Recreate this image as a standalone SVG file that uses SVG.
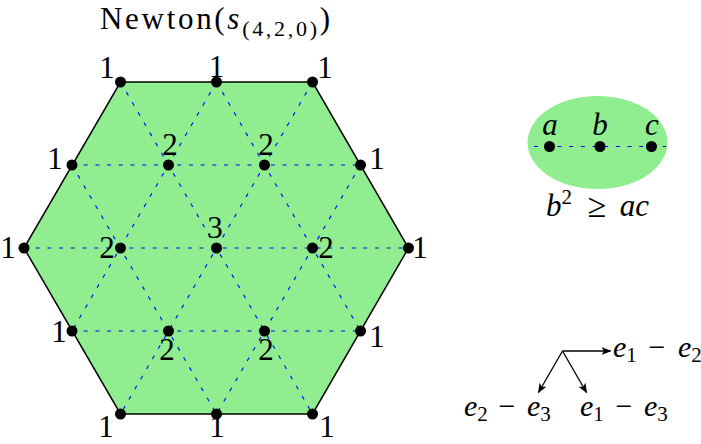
<svg xmlns="http://www.w3.org/2000/svg" width="701" height="444" viewBox="0 0 701 444">
<style>
text{font-family:"Liberation Serif","DejaVu Serif",serif;fill:#000}
.lb{font-size:31px;text-anchor:middle}
.it{font-style:italic}
.dash{stroke:#0000ff;stroke-width:1.1;stroke-dasharray:4 7.7;fill:none}
.dot{fill:#000}
.arr{stroke:#000;stroke-width:1.3;fill:none;marker-end:url(#ah)}
.ml{font-size:30px}
.sub{font-size:21px;font-style:normal}
</style>
<defs>
<marker id="ah" viewBox="0 0 10 10" refX="9" refY="5" markerWidth="10" markerHeight="10" markerUnits="userSpaceOnUse" orient="auto">
<path d="M0,1 L10,5 L0,9 L2.5,5 Z" fill="#000"/>
</marker>
</defs>
<text id="title" x="100" y="29" font-size="31" textLength="230" lengthAdjust="spacing">Newton(<tspan class="it">s</tspan><tspan font-size="22" dy="7">(4,2,0)</tspan><tspan dy="-7">)</tspan></text>
<g id="hexagon">
<polygon points="120.5,82 312.5,82 408.5,248 312.5,414 120.5,414 24,248" fill="#90ee90" stroke="#000" stroke-width="1.5"/>
</g>
<g id="connectors">
<line class="dash" x1="72" y1="165" x2="360.5" y2="165"/>
<line class="dash" x1="24" y1="248" x2="408.5" y2="248"/>
<line class="dash" x1="72" y1="331" x2="360.5" y2="331"/>
<line class="dash" x1="216.5" y1="82" x2="360.5" y2="331"/>
<line class="dash" x1="120.5" y1="82" x2="312.5" y2="414"/>
<line class="dash" x1="72" y1="165" x2="216.5" y2="414"/>
<line class="dash" x1="216.5" y1="82" x2="72" y2="331"/>
<line class="dash" x1="312.5" y1="82" x2="120.5" y2="414"/>
<line class="dash" x1="360.5" y1="165" x2="216.5" y2="414"/>
</g>
<g id="points">
<circle class="dot" cx="120.5" cy="82" r="5.5"/><circle class="dot" cx="216.5" cy="82" r="5.5"/><circle class="dot" cx="312.5" cy="82" r="5.5"/>
<circle class="dot" cx="72" cy="165" r="5.5"/><circle class="dot" cx="168.5" cy="165" r="5.5"/><circle class="dot" cx="264.5" cy="165" r="5.5"/><circle class="dot" cx="360.5" cy="165" r="5.5"/>
<circle class="dot" cx="24" cy="248" r="5.5"/><circle class="dot" cx="120.5" cy="248" r="5.5"/><circle class="dot" cx="216.5" cy="248" r="5.5"/><circle class="dot" cx="312.5" cy="248" r="5.5"/><circle class="dot" cx="408.5" cy="248" r="5.5"/>
<circle class="dot" cx="72" cy="331" r="5.5"/><circle class="dot" cx="168.5" cy="331" r="5.5"/><circle class="dot" cx="264.5" cy="331" r="5.5"/><circle class="dot" cx="360.5" cy="331" r="5.5"/>
<circle class="dot" cx="120.5" cy="414" r="5.5"/><circle class="dot" cx="216.5" cy="414" r="5.5"/><circle class="dot" cx="312.5" cy="414" r="5.5"/>
</g>
<g id="labels">
<text class="lb" x="107" y="78">1</text><text class="lb" x="216.5" y="77">1</text><text class="lb" x="325" y="78">1</text>
<text class="lb" x="55" y="169">1</text><text class="lb" x="170" y="155">2</text><text class="lb" x="266" y="155">2</text><text class="lb" x="377" y="169">1</text>
<text class="lb" x="8" y="258">1</text><text class="lb" x="107" y="258">2</text><text class="lb" x="215" y="238">3</text><text class="lb" x="326" y="258">2</text><text class="lb" x="420" y="258">1</text>
<text class="lb" x="59" y="342">1</text><text class="lb" x="167" y="360">2</text><text class="lb" x="266" y="360">2</text><text class="lb" x="377" y="347">1</text>
<text class="lb" x="106" y="437">1</text><text class="lb" x="217" y="437">1</text><text class="lb" x="327" y="437">1</text>
</g>
<g id="inequality">
<ellipse cx="597.5" cy="142.5" rx="70" ry="46.5" fill="#90ee90"/>
<line class="dash" x1="534" y1="146.5" x2="666" y2="146.5"/>
<circle class="dot" cx="549.5" cy="146.5" r="5.5"/><circle class="dot" cx="600" cy="146.5" r="5.5"/><circle class="dot" cx="651.5" cy="146.5" r="5.5"/>
<text class="lb it" x="550" y="135">a</text><text class="lb it" x="600" y="135">b</text><text class="lb it" x="652" y="135">c</text>
<text x="546" y="216" font-size="31"><tspan class="it">b</tspan><tspan font-size="21" dy="-12">2</tspan></text>
<text x="597" y="217" font-size="34" text-anchor="middle">≥</text>
<text x="649" y="216" font-size="31" text-anchor="end" class="it">ac</text>
</g>
<g id="axes">
<line class="arr" x1="562.5" y1="351" x2="610.5" y2="351"/>
<line class="arr" x1="562.5" y1="351" x2="538.5" y2="392.5"/>
<line class="arr" x1="562.5" y1="351" x2="586.5" y2="392.5"/>
<text class="ml it" x="613" y="357">e<tspan class="sub" dy="5">1</tspan></text>
<text class="ml" x="657" y="357" text-anchor="middle">−</text>
<text class="ml it" x="678" y="357">e<tspan class="sub" dy="5">2</tspan></text>
<text class="ml it" x="464" y="416">e<tspan class="sub" dy="5">2</tspan></text>
<text class="ml" x="507" y="416" text-anchor="middle">−</text>
<text class="ml it" x="527" y="416">e<tspan class="sub" dy="5">3</tspan></text>
<text class="ml it" x="580" y="416">e<tspan class="sub" dy="5">1</tspan></text>
<text class="ml" x="624" y="416" text-anchor="middle">−</text>
<text class="ml it" x="644" y="416">e<tspan class="sub" dy="5">3</tspan></text>
</g>
</svg>
